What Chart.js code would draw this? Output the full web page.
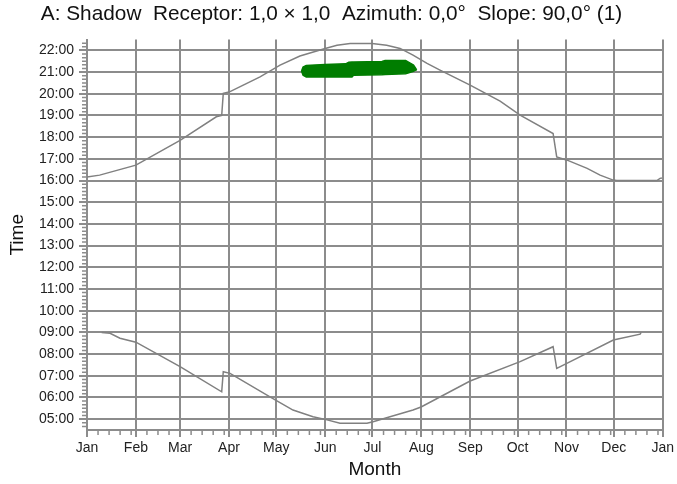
<!DOCTYPE html>
<html>
<head>
<meta charset="utf-8">
<script src="https://cdn.jsdelivr.net/npm/chart.js@4.4.1/dist/chart.umd.min.js"></script>
<style>
  html, body { margin: 0; padding: 0; background: #ffffff; }
</style>
</head>
<body>
<canvas id="grafico" width="677" height="484"></canvas>
<script>
// Textos del gráfico
const tituloGrafico = "A: Shadow  Receptor: 1,0 × 1,0  Azimuth: 0,0°  Slope: 90,0° (1)";
const tituloX = "Month";
const tituloY = "Time";

// Eje X: día del año donde empieza cada mes
const monthLabels = ["Jan", "Feb", "Mar", "Apr", "May", "Jun", "Jul", "Aug", "Sep", "Oct", "Nov", "Dec", "Jan"];
const monthStartDays = [0, 31, 59, 90, 120, 151, 181, 212, 243, 273, 304, 334, 365];

// Eje Y: horas con etiqueta
const hourTicks = [5, 6, 7, 8, 9, 10, 11, 12, 13, 14, 15, 16, 17, 18, 19, 20, 21, 22];

// Curva superior (puesta de sol)
const sunsetDays = [0, 8, 31, 59, 82, 85.4, 86.4, 90.7, 109.7, 122.4, 135, 151, 158.5, 166.8, 180.7, 190, 198.5, 206.7, 215.6, 223.8, 242.9, 261.9, 274.6, 295.5, 297.8, 304.4, 317.1, 325.3, 333.6, 335.9, 361.3, 363.3, 364.5];
const sunsetHours = [16.16, 16.25, 16.71, 17.85, 18.94, 19.0, 20.02, 20.1, 20.78, 21.32, 21.74, 22.09, 22.24, 22.32, 22.32, 22.24, 22.09, 21.78, 21.4, 21.09, 20.4, 19.66, 19.02, 18.17, 17.09, 16.94, 16.56, 16.25, 16.02, 16.0, 16.0, 16.1, 16.12];

// Curva inferior (salida de sol)
const sunriseDays = [9.3, 14.6, 20.9, 31, 59, 85.4, 86.4, 90.7, 116, 130.6, 143.3, 151, 160.4, 177.5, 181.4, 192.1, 206.7, 211.8, 242.9, 274.6, 295.5, 297.8, 304.2, 333.7, 350.7, 351.3];
const sunriseHours = [9.0, 8.96, 8.73, 8.55, 7.42, 6.26, 7.19, 7.11, 6.03, 5.42, 5.11, 4.99, 4.81, 4.81, 4.88, 5.11, 5.42, 5.56, 6.76, 7.65, 8.34, 7.34, 7.57, 8.65, 8.92, 9.0];

// Zona de sombra (borde superior e inferior)
const shadowDays = [136, 137, 139, 151, 164, 166, 168, 169, 187, 189, 202, 207, 208, 209];
const shadowTop = [21.05, 21.23, 21.31, 21.35, 21.38, 21.46, 21.47, 21.47, 21.49, 21.54, 21.54, 21.33, 21.22, 21.1];
const shadowBottom = [21.05, 20.85, 20.77, 20.77, 20.77, 20.77, 20.77, 20.85, 20.88, 20.89, 20.92, 21.04, 21.08, 21.1];

const gris = "#8c8c8c";
const fuente = "'Liberation Sans', Arial, sans-serif";

function puntos(xs, ys) {
  return xs.map((d, i) => ({ x: d, y: ys[i] }));
}

function formatoHora(v) {
  return (v < 10 ? "0" : "") + v + ":00";
}

// Marcas menores: semanas en X y cada 10 minutos en Y
const marcasMenores = {
  id: "marcasMenores",
  afterDraw(chart) {
    const { ctx, chartArea, scales } = chart;
    const x = scales.x;
    const y = scales.y;
    ctx.save();
    ctx.strokeStyle = gris;
    ctx.lineWidth = 1.5;
    ctx.beginPath();
    for (let i = 0; i < monthStartDays.length - 1; i++) {
      for (let d = monthStartDays[i] + 7; d < monthStartDays[i + 1]; d += 7) {
        const px = x.getPixelForValue(d);
        ctx.moveTo(px, chartArea.bottom);
        ctx.lineTo(px, chartArea.bottom + 5);
      }
    }
    for (let m = 280; m < 1350; m += 10) {
      if (m % 60 === 0) continue;
      const py = y.getPixelForValue(m / 60);
      ctx.moveTo(chartArea.left - 5, py);
      ctx.lineTo(chartArea.left, py);
    }
    ctx.stroke();
    ctx.restore();
  },
};

const ctx = document.getElementById("grafico").getContext("2d");

const chart = new Chart(ctx, {
  type: "line",
  data: {
    datasets: [
      {
        data: puntos(sunsetDays, sunsetHours),
        borderColor: "#808080",
        borderWidth: 1.5,
        pointRadius: 0,
        fill: false,
        tension: 0,
      },
      {
        data: puntos(sunriseDays, sunriseHours),
        borderColor: "#808080",
        borderWidth: 1.5,
        pointRadius: 0,
        fill: false,
        tension: 0,
      },
      {
        data: puntos(shadowDays, shadowTop),
        borderColor: "#007d00",
        backgroundColor: "#007d00",
        borderWidth: 1.5,
        pointRadius: 0,
        fill: "+1",
        tension: 0,
      },
      {
        data: puntos(shadowDays, shadowBottom),
        borderColor: "#007d00",
        borderWidth: 1.5,
        pointRadius: 0,
        fill: false,
        tension: 0,
      },
    ],
  },
  options: {
    responsive: false,
    animation: false,
    layout: { padding: { left: 0, right: 14, top: 0, bottom: 0 } },
    plugins: {
      legend: { display: false },
      tooltip: { enabled: false },
      title: {
        display: true,
        text: tituloGrafico,
        color: "#111111",
        font: { family: fuente, size: 20.8, weight: "normal", lineHeight: 1.2 },
        padding: { top: 1.5, bottom: 13.1 },
      },
    },
    scales: {
      x: {
        type: "linear",
        min: 0,
        max: 365,
        afterBuildTicks: (s) => {
          s.ticks = monthStartDays.map((v) => ({ value: v }));
        },
        afterFit: (s) => {
          s.height = 54;
        },
        ticks: {
          autoSkip: false,
          maxRotation: 0,
          padding: 3,
          color: "#222222",
          font: { family: fuente, size: 14 },
          callback: (v, i) => monthLabels[i],
        },
        grid: { color: gris, lineWidth: 2, tickLength: 7 },
        border: { color: gris, width: 2 },
        title: {
          display: true,
          text: tituloX,
          color: "#111111",
          font: { family: fuente, size: 19 },
          padding: { top: 0, bottom: 3 },
        },
      },
      y: {
        type: "linear",
        min: 4.5,
        max: 22.5,
        afterBuildTicks: (s) => {
          s.ticks = hourTicks.map((v) => ({ value: v }));
        },
        afterFit: (s) => {
          s.width = 87;
        },
        ticks: {
          padding: 5,
          color: "#222222",
          font: { family: fuente, size: 14 },
          callback: (v) => formatoHora(v),
        },
        grid: { color: gris, lineWidth: 2, tickLength: 8 },
        border: { color: gris, width: 2 },
        title: {
          display: true,
          text: tituloY,
          color: "#111111",
          font: { family: fuente, size: 19 },
          padding: { top: 6, bottom: 0 },
        },
      },
    },
  },
  plugins: [marcasMenores],
});
</script>
</body>
</html>
